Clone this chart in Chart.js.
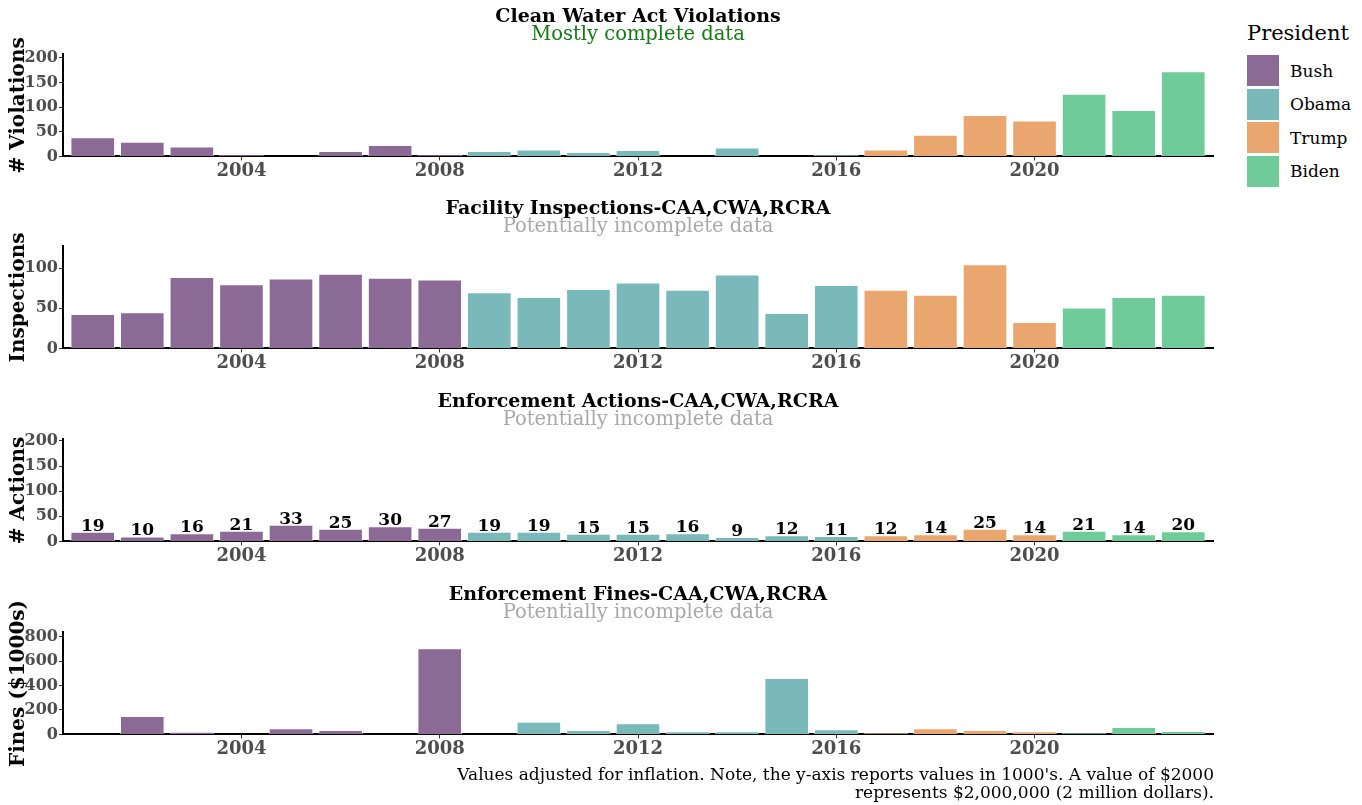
<!DOCTYPE html>
<html>
<head>
<meta charset="utf-8">
<title>Enforcement by President</title>
<script src="https://cdn.jsdelivr.net/npm/chart.js@4.4.1/dist/chart.umd.min.js"></script>
<style>
  body { margin: 0; background: #fff; font-family: "DejaVu Serif", serif; }
  #page { position: relative; width: 1362px; height: 805px; overflow: hidden; }
  .panel { position: absolute; left: 0; }
  #legend { position: absolute; left: 1247px; top: 20px; }
  #legend .title { font-size: 21px; line-height: 26px; margin-bottom: 8px; color: #000; }
  #legend .item { display: flex; align-items: center; height: 33.5px; }
  #legend .swatch { width: 32px; height: 31px; margin-right: 11px; }
  #legend .label { font-size: 17px; color: #000; }
  #caption { position: absolute; right: 148px; top: 765px; text-align: right;
    font-size: 17px; line-height: 18px; color: #000; }
</style>
</head>
<body>
<div id="page">
  <canvas id="chart-violations" class="panel"></canvas>
  <canvas id="chart-inspections" class="panel"></canvas>
  <canvas id="chart-actions" class="panel"></canvas>
  <canvas id="chart-fines" class="panel"></canvas>
  <div id="legend"></div>
  <div id="caption">Values adjusted for inflation. Note, the y-axis reports values in 1000's. A value of $2000<br>represents $2,000,000 (2 million dollars).</div>
</div>
<script>
// Data
const years = [2001, 2002, 2003, 2004, 2005, 2006, 2007, 2008, 2009, 2010, 2011, 2012,
  2013, 2014, 2015, 2016, 2017, 2018, 2019, 2020, 2021, 2022, 2023];
const yearPresident = ["Bush", "Bush", "Bush", "Bush", "Bush", "Bush", "Bush", "Bush",
  "Obama", "Obama", "Obama", "Obama", "Obama", "Obama", "Obama", "Obama",
  "Trump", "Trump", "Trump", "Trump", "Biden", "Biden", "Biden"];
const presidents = ["Bush", "Obama", "Trump", "Biden"];
const presidentColors = ["#8c6a96", "#79b9b9", "#eaa66f", "#6fcc9a"];

const violations = [39, 30, 20, 4, 0, 11, 23, 4, 11, 14, 9, 13, 0, 18, 0, 3, 14, 44, 84, 73, 127, 94, 173];
const inspections = [43, 45, 89, 80, 87, 93, 88, 86, 70, 64, 74, 82, 73, 92, 44, 79, 73, 67, 105, 33, 51, 64, 67];
const actions = [19, 10, 16, 21, 33, 25, 30, 27, 19, 19, 15, 15, 16, 9, 12, 11, 12, 14, 25, 14, 21, 14, 20];
const fines = [0, 150, 22, 0, 50, 36, 0, 705, 0, 103, 36, 92, 25, 25, 462, 42, 11, 50, 36, 25, 11, 61, 28];

const yearTicks = [2004, 2008, 2012, 2016, 2020];
const violationTicks = [0, 50, 100, 150, 200];
const inspectionTicks = [0, 25, 50, 75, 100, 125];
const actionTicks = [0, 50, 100, 150, 200];
const fineTicks = [0, 200, 400, 600, 800];

const FONT = "'DejaVu Serif', serif";
const TICK_GREY = "#4d4d4d";

// value labels above the bars (only used on the actions panel)
const barLabels = {
  id: "barLabels",
  afterDatasetsDraw(chart, args, opts) {
    if (!opts.display) return;
    const ctx = chart.ctx;
    const meta = chart.getDatasetMeta(0);
    ctx.save();
    ctx.font = "bold 17px " + FONT;
    ctx.fillStyle = "#000";
    ctx.textAlign = "center";
    ctx.textBaseline = "alphabetic";
    meta.data.forEach((bar, i) => {
      ctx.fillText(String(chart.data.datasets[0].data[i].y), bar.x, bar.y - 1);
    });
    ctx.restore();
  },
};

function colorFor(name) {
  return presidentColors[presidents.indexOf(name)];
}

function makePanel(id, top, values, opts) {
  const extra = opts.extraBottom || 0;
  const canvas = document.getElementById(id);
  canvas.width = 1230;
  canvas.height = 182 + extra;
  canvas.style.top = top + "px";

  return new Chart(canvas, {
    type: "bar",
    data: {
      datasets: [{
        data: years.map((y, i) => ({ x: y, y: values[i] })),
        backgroundColor: yearPresident.map(colorFor),
        borderColor: "rgba(255, 255, 255, 0.65)",
        borderWidth: 1,
        barPercentage: 0.9,
        categoryPercentage: 1.0,
      }],
    },
    plugins: [barLabels],
    options: {
      responsive: false,
      animation: false,
      devicePixelRatio: 1,
      layout: {
        padding: { top: 8.5, left: 0, right: 17, bottom: extra },
      },
      plugins: {
        legend: { display: false },
        tooltip: { enabled: false },
        // fullSize false keeps the titles centred over the plot area
        title: {
          display: true,
          fullSize: false,
          text: opts.title,
          color: "#000",
          font: { family: FONT, size: 19, weight: "bold", lineHeight: 0.85 },
          padding: { top: 0, bottom: 0 },
        },
        subtitle: {
          display: true,
          fullSize: false,
          text: opts.subtitle,
          color: opts.subtitleColor,
          font: { family: FONT, size: 19.5, weight: "normal", lineHeight: 0.85 },
          padding: { top: 1.5, bottom: 11.75 },
        },
        barLabels: { display: !!opts.labels },
      },
      scales: {
        x: {
          type: "linear",
          offset: false,
          min: 2000.4,
          max: 2023.6,
          afterBuildTicks: (scale) => {
            scale.ticks = yearTicks.map((v) => ({ value: v }));
          },
          ticks: {
            color: TICK_GREY,
            padding: 0,
            maxRotation: 0,
            font: { family: FONT, size: 18, weight: "bold" },
            callback: (v) => String(v),
          },
          grid: {
            offset: false,
            drawOnChartArea: false,
            drawTicks: true,
            tickLength: 4,
            color: "#333",
          },
          border: { color: "#000", width: 2 },
        },
        y: {
          min: 0,
          max: opts.max,
          afterBuildTicks: (scale) => {
            scale.ticks = opts.ticks.map((v) => ({ value: v }));
          },
          afterFit: (scale) => {
            scale.width = 63;
          },
          ticks: {
            color: TICK_GREY,
            padding: 1,
            font: { family: FONT, size: 16, weight: "bold" },
            callback: (v) => String(v),
          },
          grid: {
            drawOnChartArea: false,
            drawTicks: true,
            tickLength: 4,
            color: "#333",
          },
          border: { color: "#000", width: 2 },
          title: {
            display: true,
            text: opts.yTitle,
            color: "#000",
            padding: { top: 7, bottom: 0 },
            font: { family: FONT, size: 20, weight: "bold" },
          },
        },
      },
    },
  });
}

makePanel("chart-violations", 0, violations, {
  title: "Clean Water Act Violations",
  subtitle: "Mostly complete data",
  subtitleColor: "#157a15",
  yTitle: "# Violations",
  max: 207,
  ticks: violationTicks,
});

makePanel("chart-inspections", 192, inspections, {
  title: "Facility Inspections-CAA,CWA,RCRA",
  subtitle: "Potentially incomplete data",
  subtitleColor: "#a9a9a9",
  yTitle: "Inspections",
  max: 127,
  ticks: inspectionTicks,
});

makePanel("chart-actions", 385, actions, {
  title: "Enforcement Actions-CAA,CWA,RCRA",
  subtitle: "Potentially incomplete data",
  subtitleColor: "#a9a9a9",
  yTitle: "# Actions",
  max: 203,
  ticks: actionTicks,
  labels: true,
});

makePanel("chart-fines", 578, fines, {
  title: "Enforcement Fines-CAA,CWA,RCRA",
  subtitle: "Potentially incomplete data",
  subtitleColor: "#a9a9a9",
  yTitle: "Fines ($1000s)",
  max: 835,
  ticks: fineTicks,
  extraBottom: 14,
});

// legend
const legend = document.getElementById("legend");
let html = '<div class="title">President</div>';
presidents.forEach((p, i) => {
  html += '<div class="item"><div class="swatch" style="background:' + presidentColors[i] +
    '"></div><div class="label">' + p + "</div></div>";
});
legend.innerHTML = html;
</script>
</body>
</html>
